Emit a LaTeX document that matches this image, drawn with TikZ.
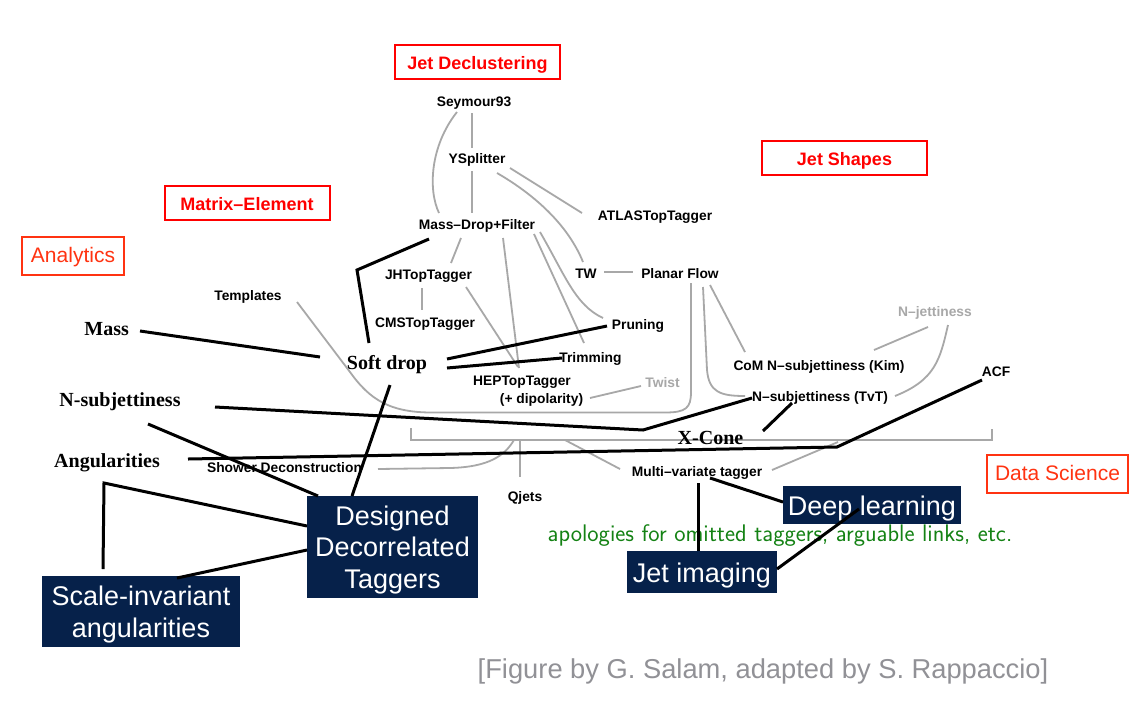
\documentclass[tikz,border=0pt]{standalone}
\usepackage{fontspec}
\newfontfamily\hv{Liberation Sans}
\newfontfamily\tm{Liberation Serif}
\usetikzlibrary{calc}
\definecolor{lg}{RGB}{168,168,168}
\definecolor{navy}{RGB}{6,33,74}
\definecolor{rb}{RGB}{255,0,0}
\definecolor{ob}{RGB}{255,51,17}
\definecolor{gtx}{RGB}{20,130,20}
\definecolor{foot}{RGB}{145,145,150}
\begin{document}
\begin{tikzpicture}[x=1pt,y=-1pt,
 lab/.style={anchor=base,inner sep=0pt,font=\hv\bfseries\fontsize{13.8}{16}\selectfont},
 glab/.style={lab,text=lg},
 ser/.style={anchor=base,inner sep=0pt,font=\tm\bfseries\fontsize{20}{22}\selectfont},
 catbox/.style={draw=rb,line width=2pt,text=rb,minimum width=165,minimum height=34,inner sep=0pt,text height=15.5pt,text depth=0pt,font=\hv\bfseries\fontsize{18}{20}\selectfont},
 catboxb/.style={draw=ob,line width=2.6pt,text=ob,minimum height=38,inner sep=0pt,text height=13.4pt,text depth=0pt,font=\hv\fontsize{21}{24}\selectfont},
 navybox/.style={fill=navy,text=white,inner sep=0pt,align=center,text depth=0pt,font=\hv\fontsize{27}{31.5}\selectfont},
 navyone/.style={navybox,text height=20pt},
 gl/.style={draw=lg,line width=1.8pt},
 bl/.style={draw=black,line width=3pt},
]
\fill[white] (0,0) rectangle (1140,705);
\path[use as bounding box] (0,0) rectangle (1140,705);
% X-Cone bracket
\draw[gl] (411,428) -- (411,440) -- (992,440) -- (992,429);
% category boxes
\node[catbox] (jd) at (477.5,62) {Jet Declustering};
\node[catbox] (js) at (844.5,157.5) {Jet Shapes};
\node[catbox] (me) at (247,203) {Matrix–Element};
\node[catboxb,minimum width=102] (an) at (73,256) {Analytics};
\node[catboxb,minimum width=141] (ds) at (1057.5,474) {Data Science};
% labels
\node[lab] (sey) at (474,106) {Seymour93};
\node[lab] (ysp) at (477,163) {YSplitter};
\node[lab] (mdf) at (477,229) {Mass–Drop+Filter};
\node[lab] (atl) at (655,220) {ATLASTopTagger};
\node[lab] (jht) at (428.5,279) {JHTopTagger};
\node[lab] (tw) at (586,278) {TW};
\node[lab] (pf) at (680,278) {Planar Flow};
\node[lab] (tmpl) at (248,300) {Templates};
\node[lab] (cms) at (425,327) {CMSTopTagger};
\node[lab] (prun) at (638,329) {Pruning};
\node[lab] (trim) at (590.5,362) {Trimming};
\node[lab] (hep) at (522,385) {HEPTopTagger};
\node[lab] (dip) at (541.5,403) {(+ dipolarity)};
\node[glab] (twist) at (662.5,387) {Twist};
\node[glab] (njet) at (935,316) {N–jettiness};
\node[lab] (com) at (819,370) {CoM N–subjettiness (Kim)};
\node[lab] (nsubt) at (820,401) {N–subjettiness (TvT)};
\node[lab] (acf) at (996,376) {ACF};
\node[lab] (mvt) at (697,476) {Multi–variate tagger};
\node[lab] (shw) at (284.5,472) {Shower Deconstruction};
\node[lab] (qj) at (525,501) {Qjets};
\node[ser] (mass) at (106.7,335) {Mass};
\node[ser] (sd) at (387,369) {Soft drop};
\node[ser] (xc) at (710.5,444) {X-Cone};
\node[ser] (nsub) at (120,406) {N-subjettiness};
\node[ser] (ang) at (107,467) {Angularities};
% navy boxes
\node[navybox,minimum width=171,minimum height=102] (dd) at (392.5,547) {Designed\\Decorrelated\\Taggers};
\node[navybox,minimum width=198,minimum height=71] (sia) at (141,611.5) {Scale-invariant\\angularities};
\node[navyone,minimum width=178,minimum height=38] (dl) at (872,505) {Deep learning};
\node[navyone,minimum width=150,minimum height=42] (ji) at (702,572) {Jet imaging};
% texts
\node[anchor=base,inner sep=0pt,text=gtx,font=\sffamily\fontsize{24}{28}\selectfont] (apo) at (780,541.5) {apologies for omitted taggers, arguable links, etc.};
\node[anchor=base,inner sep=0pt,text=foot,font=\hv\fontsize{27.3}{32}\selectfont] (fig) at (763,678) {[Figure by G. Salam, adapted by S. Rappaccio]};
% grey connectors
\draw[gl] ($(sey.base)+(-17,6)$) .. controls +(-27,34) and +(-11,-23) .. ($(mdf.base)+(-38,-16)$);
\draw[gl] ($(sey.base)+(-2,7)$) -- ($(ysp.base)+(-5,-15)$);
\draw[gl] ($(ysp.base)+(-5,8)$) -- ($(mdf.base)+(-5,-16)$);
\draw[gl] ($(ysp.base)+(33,5)$) -- ($(atl.base)+(-73,-7)$);
\draw[gl] ($(ysp.base)+(20,10)$) .. controls +(38,22) and +(-15,-37) .. ($(tw.base)+(-3,-16)$);
\draw[gl] ($(tw.base)+(18,-6)$) -- ($(pf.base)+(-47,-6)$);
\draw[gl] ($(mdf.base)+(-16,9)$) -- ($(jht.base)+(22.5,-16)$);
\draw[gl] ($(mdf.base)+(26,9)$) -- ($(hep.base)+(-3,-17)$);
\draw[gl] ($(mdf.base)+(57,5)$) -- ($(trim.base)+(-6.5,-19)$);
\draw[gl] ($(mdf.base)+(63,3)$) .. controls +(25,43) and +(-28,-13) .. ($(prun.base)+(-35,-11)$);
\draw[gl] ($(jht.base)+(-6.5,9)$) -- ($(cms.base)+(-3,-17)$);
\draw[gl] ($(jht.base)+(37.5,8)$) -- ($(hep.base)+(-4,-18)$);
\draw[gl] ($(tmpl.base)+(49,2)$) -- (350,372) .. controls (370,400) and (390,412) .. (430,412.5) -- (665,412.5) .. controls (686,412.5) and (691,408) .. (691,392) -- ($(pf.base)+(11,5)$);
\draw[gl] ($(dip.base)+(48.5,-5)$) -- ($(twist.base)+(-21.5,-1)$);
\draw[gl] ($(pf.base)+(23,9)$) -- (707,370) .. controls (709,392) and (720,396) .. ($(nsubt.base)+(-75,-5)$);
\draw[gl] ($(pf.base)+(30,7)$) -- ($(com.base)+(-74,-18)$);
\draw[gl] ($(njet.base)+(-7,11)$) -- ($(com.base)+(55,-20)$);
\draw[gl] ($(njet.base)+(13,9)$) .. controls +(-8,35) and +(40,-16) .. ($(nsubt.base)+(75,-5)$);
\draw[gl] ($(shw.base)+(93.5,-3)$) -- (450,468) .. controls (490,467) and (505,455) .. (514,440);
\draw[gl] (520,440) -- ($(qj.base)+(-5,-24)$);
\draw[gl] (565,440) -- ($(mvt.base)+(-77,-7)$);
\draw[gl] ($(mvt.base)+(75,-6)$) -- (838,442);
% black connectors
\draw[bl] ($(mass.base)+(33.3,-4)$) -- ($(sd.base)+(-67,-12)$);
\draw[bl] ($(sd.base)+(-18,-26)$) -- (357,270) -- ($(mdf.base)+(-48,10)$);
\draw[bl] ($(sd.base)+(60,-10)$) -- ($(prun.base)+(-31,-3)$);
\draw[bl] ($(sd.base)+(60,-1)$) -- ($(trim.base)+(-28.5,-4)$);
\draw[bl] ($(sd.base)+(3,16)$) -- ($(dd.center)+(-40.5,-51)$);
\draw[bl] ($(nsub.base)+(95,1)$) -- (643,430) -- ($(nsubt.base)+(-68,-3)$);
\draw[bl] ($(nsubt.base)+(-28,2)$) -- ($(xc.base)+(52.5,-13)$);
\draw[bl] ($(ang.base)+(81,-8)$) -- (837,447) -- ($(acf.base)+(-14,4)$);
\draw[bl] ($(nsub.base)+(28,18)$) -- ($(dd.center)+(-74.5,-51)$);
\draw[bl] ($(sia.center)+(-38,-42.5)$) -- ($(ang.base)+(-3,16)$) -- ($(dd.center)+(-85.5,-21)$);
\draw[bl] ($(sia.center)+(36,-33.5)$) -- ($(dd.center)+(-85.5,3)$);
\draw[bl] ($(mvt.base)+(13,2)$) -- ($(dl.center)+(-89,-3)$);
\draw[bl] ($(mvt.base)+(1,7)$) -- ($(ji.center)+(-4,-21)$);
\draw[bl] ($(ji.center)+(75,-3)$) -- ($(dl.center)+(-13,4)$);
\end{tikzpicture}
\end{document}
